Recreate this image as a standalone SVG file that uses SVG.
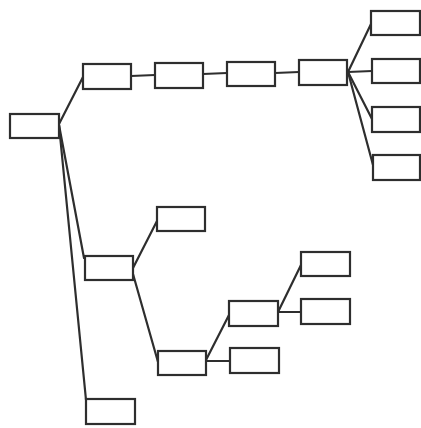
<svg xmlns="http://www.w3.org/2000/svg" width="421" height="428" viewBox="0 0 421 428">
<style>
.n rect{fill:#fff;stroke:#2e2e2e;stroke-width:2.2}
#edges line{stroke:#2e2e2e;stroke-width:2.2;stroke-linecap:round}
</style>
<rect width="421" height="428" fill="#fff"/>
<g id="edges">
<line x1="59" y1="124" x2="83" y2="77"/>
<line x1="131" y1="76" x2="155" y2="75"/>
<line x1="203" y1="74" x2="227" y2="73"/>
<line x1="275" y1="73" x2="299" y2="72"/>
<line x1="348" y1="72" x2="371" y2="24"/>
<line x1="348" y1="72" x2="372" y2="71"/>
<line x1="348" y1="72" x2="372" y2="119"/>
<line x1="348" y1="72" x2="373" y2="165"/>
<line x1="59" y1="125" x2="84" y2="258"/>
<line x1="59" y1="125" x2="86" y2="400"/>
<line x1="133" y1="268" x2="157" y2="221"/>
<line x1="133" y1="274" x2="158" y2="362"/>
<line x1="206" y1="360" x2="229" y2="315"/>
<line x1="206" y1="361" x2="230" y2="361"/>
<line x1="278" y1="312" x2="301" y2="265"/>
<line x1="278" y1="312" x2="301" y2="312"/>
</g>
<g id="root" class="n"><rect x="10" y="114" width="49" height="24"/></g>
<g id="a" class="n"><rect x="83" y="64" width="48" height="25"/></g>
<g id="b" class="n"><rect x="155" y="63" width="48" height="25"/></g>
<g id="c" class="n"><rect x="227" y="62" width="48" height="24"/></g>
<g id="d" class="n"><rect x="299" y="60" width="48" height="25"/></g>
<g id="e1" class="n"><rect x="371" y="11" width="49" height="24"/></g>
<g id="e2" class="n"><rect x="372" y="59" width="48" height="24"/></g>
<g id="e3" class="n"><rect x="372" y="107" width="48" height="25"/></g>
<g id="e4" class="n"><rect x="373" y="155" width="47" height="25"/></g>
<g id="f" class="n"><rect x="157" y="207" width="48" height="24"/></g>
<g id="g" class="n"><rect x="85" y="256" width="48" height="24"/></g>
<g id="h" class="n"><rect x="158" y="351" width="48" height="24"/></g>
<g id="i" class="n"><rect x="86" y="399" width="49" height="25"/></g>
<g id="j" class="n"><rect x="301" y="252" width="49" height="24"/></g>
<g id="k" class="n"><rect x="301" y="299" width="49" height="25"/></g>
<g id="l" class="n"><rect x="229" y="301" width="49" height="25"/></g>
<g id="m" class="n"><rect x="230" y="348" width="49" height="25"/></g>
</svg>
